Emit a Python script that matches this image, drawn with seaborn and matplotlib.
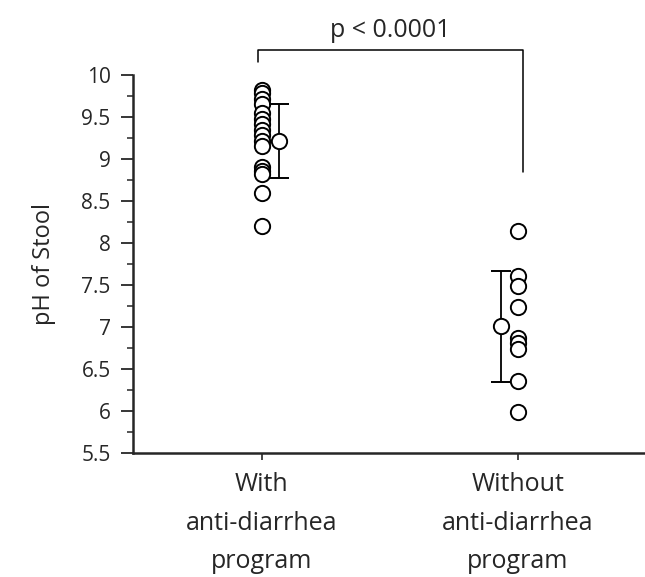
import numpy as np
import pandas as pd
import matplotlib
matplotlib.use("Agg")
import matplotlib.pyplot as plt
import seaborn as sns
from matplotlib.ticker import MultipleLocator

# ---- data ----
groups = ["With\nanti-diarrhea\nprogram", "Without\nanti-diarrhea\nprogram"]
with_ph = [9.82, 9.78, 9.72, 9.65, 9.55, 9.48, 9.42, 9.35, 9.28, 9.22, 9.15,
           8.90, 8.86, 8.82, 8.60, 8.20]
without_ph = [8.14, 7.61, 7.49, 7.24, 6.87, 6.81, 6.74, 6.36, 5.99]
means = [9.21, 7.01]
sds = [0.44, 0.66]
p_text = "p < 0.0001"

df = pd.DataFrame({
    "group": [groups[0]] * len(with_ph) + [groups[1]] * len(without_ph),
    "ph": with_ph + without_ph,
})

sns.set_theme(style="ticks")
plt.rcParams["font.family"] = ["Open Sans", "DejaVu Sans"]

fig = plt.figure(figsize=(6.45, 5.77), dpi=100)
ax = fig.add_axes([0.206, 0.215, 0.794, 0.655])

sns.stripplot(data=df, x="group", y="ph", order=groups, jitter=False,
              color="white", edgecolor="black", linewidth=1.4, size=11,
              ax=ax, zorder=3)

# mean +/- SD, drawn beside each column
mean_x = [0.065, 0.935]
ax.errorbar(mean_x, means, yerr=sds, fmt="o", ms=11, mfc="white", mec="black",
            mew=1.4, ecolor="black", elinewidth=1.3, capsize=7, capthick=1.3,
            zorder=4)

ax.set_xlim(-0.504, 1.496)
ax.set_ylim(5.5, 10)
ax.yaxis.set_minor_locator(MultipleLocator(0.25))
yt = np.arange(5.5, 10.01, 0.5)
ax.set_yticks(yt)
ax.set_yticklabels([f"{v:g}" for v in yt])

ax.tick_params(axis="y", which="major", length=9, width=1.3, labelsize=15,
               pad=7)
ax.tick_params(axis="y", which="minor", length=4, width=1.1)
ax.tick_params(axis="x", length=5, width=1.2, labelsize=18, pad=9)
for lab in ax.get_xticklabels():
    lab.set_linespacing(1.7)

ax.set_xlabel("")
ax.set_ylabel("pH of Stool", fontsize=17, labelpad=18)
ax.spines["left"].set_linewidth(1.8)
ax.spines["bottom"].set_linewidth(1.8)
sns.despine(ax=ax)

# significance bracket
ax.plot([-0.016, -0.016, 1.02, 1.02], [10.15, 10.30, 10.30, 8.85],
        color="black", lw=1.1, clip_on=False)
ax.text(0.5, 10.38, p_text, ha="center", va="bottom", fontsize=18)

fig.savefig("out.png", dpi=100)
